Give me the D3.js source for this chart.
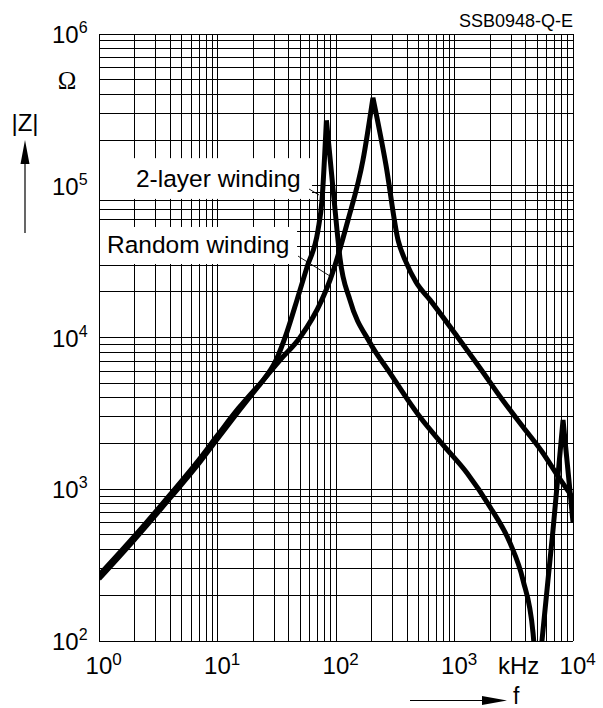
<!DOCTYPE html>
<html>
<head>
<meta charset="utf-8">
<script src="https://cdn.jsdelivr.net/npm/d3@7"></script>
<style>
  body { margin: 0; background: #fff; }
  text { font-family: "Liberation Sans", Arial, sans-serif; fill: #000; }
</style>
</head>
<body>
<script>
/* IMPEDANCE |Z| EN FONCTION DE f
   deux bobinages, axes log-log */

// valeurs : fréquence en kHz, impédance en ohms
const freq2Couches = [1, 2, 4, 7, 10, 15, 20, 24, 31.2, 38.6, 46.9, 56.9, 70.5, 76.2, 83,
  102, 108, 131, 194, 286, 405, 512, 800, 1275, 1995, 2940, 3785, 4600, 5000, 5470,
  6780, 8240, 10000];
const z2Couches = [271, 492, 925, 1570, 2265, 3410, 4420, 5170, 7100, 10900, 17700,
  29100, 51000, 80500, 270000, 51000, 33400, 17700, 9200, 5830, 3870, 2990, 1960, 1280,
  764, 443, 252, 113, 45, 100, 538, 2860, 608];

const freqAleatoire = [1, 2, 4, 7, 10, 15, 20, 24, 33.7, 49.7, 76, 89, 126, 169, 205,
  264, 334, 390, 473, 621, 1050, 1641, 2500, 3790, 5500, 7470, 10000];
const zAleatoire = [257, 468, 880, 1490, 2155, 3250, 4320, 5170, 7100, 10000, 17700,
  23900, 59000, 148000, 380000, 137000, 43800, 31400, 23200, 17700, 10200, 6300, 3950,
  2570, 1760, 1220, 875];

// étiquettes des axes
const exposantsX = [0, 1, 2, 3, 4];
const exposantsY = [2, 3, 4, 5, 6];

// créer le canevas
const canevas = d3.select('body')
  .append('svg')
  .attr('width', 603)
  .attr('height', 708);

// échelles logarithmiques
const echelleX = d3.scaleLog().domain([1, 1e4]).range([99, 573]);
const echelleY = d3.scaleLog().domain([1e2, 1e6]).range([641, 34]);

// lignes de la grille : 1..9 par décade
const grilleX = [];
exposantsX.slice(0, -1).forEach(e => { for (let k = 1; k < 10; k++) grilleX.push(k * 10 ** e); });
grilleX.push(1e4);
const grilleY = [];
exposantsY.slice(0, -1).forEach(e => { for (let k = 1; k < 10; k++) grilleY.push(k * 10 ** e); });
grilleY.push(1e6);

const grille = canevas.append('g')
  .attr('stroke', '#000')
  .attr('stroke-width', 1)
  .attr('shape-rendering', 'crispEdges');

grille.selectAll('.vx')
  .data(grilleX)
  .enter()
  .append('line')
  .attr('class', 'vx')
  .attr('x1', d => echelleX(d)).attr('x2', d => echelleX(d))
  .attr('y1', echelleY(1e2)).attr('y2', echelleY(1e6));

grille.selectAll('.hy')
  .data(grilleY)
  .enter()
  .append('line')
  .attr('class', 'hy')
  .attr('y1', d => echelleY(d)).attr('y2', d => echelleY(d))
  .attr('x1', echelleX(1)).attr('x2', echelleX(1e4));

// cartouches blancs derrière les légendes (en coordonnées de données)
const cartouches = [
  { f1: 1, f2: 62.7, z1: 152000, z2: 81900 },
  { f1: 1, f2: 46.9, z1: 53500, z2: 30500 }
];
canevas.selectAll('.cartouche')
  .data(cartouches)
  .enter()
  .append('rect')
  .attr('class', 'cartouche')
  .attr('x', d => echelleX(d.f1) + 1)
  .attr('y', d => echelleY(d.z1))
  .attr('width', d => echelleX(d.f2) - echelleX(d.f1) - 1)
  .attr('height', d => echelleY(d.z2) - echelleY(d.z1))
  .attr('fill', '#fff');

// chemin découpé aux extrema pour garder les pointes des résonances
function cheminSegmente(freqs, zs) {
  const pts = freqs.map((f, i) => [f, zs[i]]);
  const coupures = [0];
  for (let i = 1; i < pts.length - 1; i++) {
    const a = pts[i - 1][1], b = pts[i][1], c = pts[i + 1][1];
    if ((b > a && b > c) || (b < a && b < c)) coupures.push(i);
  }
  coupures.push(pts.length - 1);
  const ligne = d3.line()
    .x(d => echelleX(d[0]))
    .y(d => echelleY(d[1]))
    .curve(d3.curveMonotoneX);
  let chemin = '';
  for (let j = 0; j < coupures.length - 1; j++) {
    let s = ligne(pts.slice(coupures[j], coupures[j + 1] + 1));
    if (j > 0) s = s.replace(/^M/, 'L');
    chemin += s;
  }
  return chemin;
}

// zone de découpe = cadre du graphique
canevas.append('clipPath')
  .attr('id', 'cadre')
  .append('rect')
  .attr('x', echelleX(1)).attr('y', echelleY(1e6))
  .attr('width', echelleX(1e4) - echelleX(1))
  .attr('height', echelleY(1e2) - echelleY(1e6));

const courbes = [
  { freqs: freq2Couches, zs: z2Couches },
  { freqs: freqAleatoire, zs: zAleatoire }
];
canevas.selectAll('.courbe')
  .data(courbes)
  .enter()
  .append('path')
  .attr('class', 'courbe')
  .attr('clip-path', 'url(#cadre)')
  .attr('d', d => cheminSegmente(d.freqs, d.zs))
  .attr('fill', 'none')
  .attr('stroke', '#000')
  .attr('stroke-width', 5)
  .attr('stroke-linejoin', 'miter');

// légendes et traits de rappel
const etiquettes = [
  { texte: '2-layer winding', f: 2.05, z: 98100, rf1: 59.2, rz1: 95200, rf2: 71.9, rz2: 86900 },
  { texte: 'Random winding', f: 1.168, z: 36100, rf1: 47.8, rz1: 34400, rf2: 89, rz2: 25400 }
];
canevas.selectAll('.etiquette')
  .data(etiquettes)
  .enter()
  .append('text')
  .attr('class', 'etiquette')
  .attr('x', d => echelleX(d.f))
  .attr('y', d => echelleY(d.z))
  .attr('font-size', '24.5px')
  .text(d => d.texte);

canevas.selectAll('.rappel')
  .data(etiquettes)
  .enter()
  .append('line')
  .attr('class', 'rappel')
  .attr('x1', d => echelleX(d.rf1)).attr('y1', d => echelleY(d.rz1))
  .attr('x2', d => echelleX(d.rf2)).attr('y2', d => echelleY(d.rz2))
  .attr('stroke', '#000')
  .attr('stroke-width', 0.9);

// graduations en puissances de dix
const etiqX = canevas.selectAll('.etiqX')
  .data(exposantsX)
  .enter()
  .append('text')
  .attr('class', 'etiqX')
  .attr('x', d => echelleX(10 ** d) - 13.4)
  .attr('y', 674)
  .attr('font-size', '24px');
etiqX.append('tspan').text('10');
etiqX.append('tspan').attr('dy', -9).attr('font-size', '17px').text(d => d);

const etiqY = canevas.selectAll('.etiqY')
  .data(exposantsY)
  .enter()
  .append('text')
  .attr('class', 'etiqY')
  .attr('x', 52)
  .attr('y', d => echelleY(10 ** d) + 9)
  .attr('font-size', '24px');
etiqY.append('tspan').text('10');
etiqY.append('tspan').attr('dy', -10).attr('font-size', '16px').text(d => d);

// unités et grandeurs
canevas.append('text')
  .attr('x', 498).attr('y', 674)
  .attr('font-size', '24px')
  .text('kHz');

canevas.append('text')
  .attr('x', 67).attr('y', 89)
  .attr('text-anchor', 'middle')
  .attr('font-size', '25px')
  .style('font-family', '"Liberation Serif", serif')
  .text('Ω');

canevas.append('text')
  .attr('x', 25).attr('y', 131)
  .attr('text-anchor', 'middle')
  .attr('font-size', '24px')
  .text('|Z|');

canevas.append('text')
  .attr('x', 513).attr('y', 704)
  .attr('font-size', '23px')
  .text('f');

canevas.append('text')
  .attr('x', 573).attr('y', 27)
  .attr('text-anchor', 'end')
  .attr('font-size', '18px')
  .text('SSB0948-Q-E');

// flèches des axes
canevas.append('line')
  .attr('x1', 25).attr('x2', 25).attr('y1', 233).attr('y2', 160)
  .attr('stroke', '#000').attr('stroke-width', 1.2);
canevas.append('path')
  .attr('d', 'M25,140 L20.5,164 L29.5,164 Z')
  .attr('fill', '#000');

canevas.append('line')
  .attr('x1', 410).attr('x2', 486).attr('y1', 700.5).attr('y2', 700.5)
  .attr('stroke', '#000').attr('stroke-width', 1.2);
canevas.append('path')
  .attr('d', 'M507,700.5 L482,696 L482,705 Z')
  .attr('fill', '#000');
</script>
</body>
</html>
